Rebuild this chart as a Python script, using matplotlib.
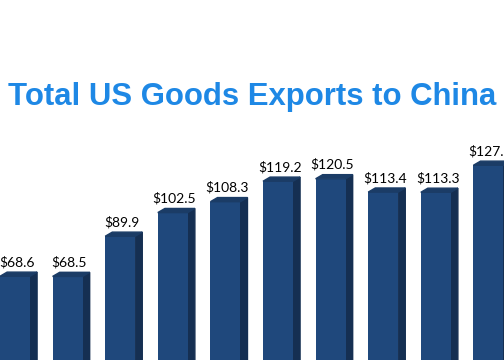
import matplotlib.pyplot as plt
from matplotlib.patches import Polygon

# Data (billions USD)
labels = ["$68.6", "$68.5", "$89.9", "$102.5", "$108.3",
          "$119.2", "$120.5", "$113.4", "$113.3", "$127.7"]
values = [68.6, 68.5, 89.9, 102.5, 108.3, 119.2, 120.5, 113.4, 113.3, 127.7]

front = "#1f487c"
side = "#152f52"
top = "#1b3c66"

fig = plt.figure(figsize=(5.04, 3.6), dpi=100)
ax = fig.add_axes([0, 0, 1, 1])
ax.set_xlim(-0.285, 9.297)
ax.set_ylim(24, 215.7)
ax.axis("off")

x = list(range(len(values)))
w = 0.57
dx = 0.135   # depth of the fake 3D side
dy = 2.2

ax.bar(x, values, width=w, color=front, zorder=2)
for xi, v, lab in zip(x, values, labels):
    l, r = xi - w / 2, xi + w / 2
    ax.add_patch(Polygon([(r, 0), (r, v), (r + dx, v + dy), (r + dx, 0)],
                         closed=True, color=side, zorder=1))
    ax.add_patch(Polygon([(l, v), (r, v), (r + dx, v + dy), (l + dx, v + dy)],
                         closed=True, color=top, zorder=3))
    ax.text(xi + dx / 4, v + dy + 2.0, lab, ha="center", va="bottom",
            fontsize=10, family="Lato", color="black")

fig.text(0.5, 1 - 105 / 360, "Total US Goods Exports to China",
         ha="center", va="baseline", fontsize=22.4, fontweight="bold",
         family="Liberation Sans", color="#1e88e5")

fig.savefig("out.png", dpi=100)
